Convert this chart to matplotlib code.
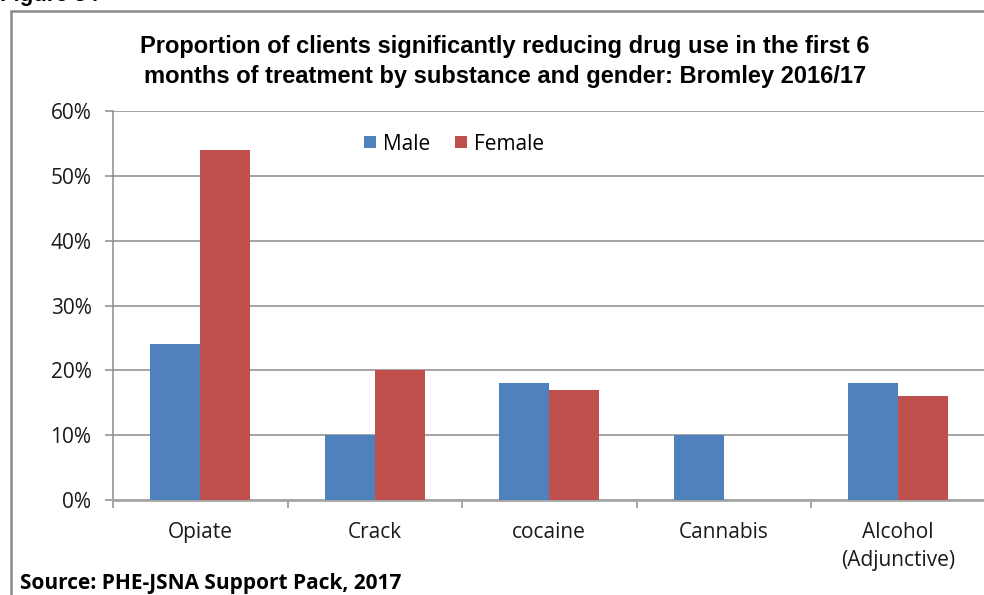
import matplotlib
matplotlib.use("Agg")
import matplotlib.pyplot as plt
import numpy as np
from matplotlib.patches import Rectangle

categories = ["Opiate", "Crack", "cocaine", "Cannabis", "Alcohol\n(Adjunctive)"]
male = [0.24, 0.10, 0.18, 0.10, 0.18]
female = [0.54, 0.20, 0.17, 0.00, 0.16]
yticks = [0, 0.1, 0.2, 0.3, 0.4, 0.5, 0.6]
ytick_labels = ["0%", "10%", "20%", "30%", "40%", "50%", "60%"]

blue = "#4F81BD"
red = "#C0504D"
grid_c = "#8C8C8C"
tick_font = "Open Sans"

fig = plt.figure(figsize=(9.84, 5.95), dpi=100)
W, H = 984, 595

# outer border
fig.patches.append(Rectangle((11 / W, -0.05), 1.1, 1 - 11 / H + 0.05, transform=fig.transFigure,
                             fill=False, edgecolor="#8A8A8A", linewidth=1.8))

ax = fig.add_axes([113 / W, 1 - 500 / H, 872.5 / W, (500 - 111) / H])
x = np.arange(len(categories))
bw = 0.2865
ax.bar(x - bw / 2, male, bw, color=blue, label="Male", zorder=3)
ax.bar(x + bw / 2, female, bw, color=red, label="Female", zorder=3)

ax.set_xlim(-0.5, len(categories) - 0.5)
ax.set_ylim(0, 0.6)
ax.set_yticks(yticks)
ax.set_yticklabels(ytick_labels, fontfamily=tick_font, fontsize=15, color="#1a1a1a")
ax.yaxis.grid(True, color=grid_c, linewidth=1.1, zorder=0)
ax.set_axisbelow(True)
ax.tick_params(axis="y", length=5.5, width=1.1, color=grid_c, pad=10)

# category labels
ax.set_xticks(x)
ax.set_xticklabels(categories, fontfamily=tick_font, fontsize=15, color="#1a1a1a", linespacing=1.45)
ax.tick_params(axis="x", length=0, pad=15.5)
# boundary ticks
ax.set_xticks(np.arange(len(categories) + 1) - 0.5, minor=True)
ax.tick_params(axis="x", which="minor", length=6, width=1.1, color=grid_c, direction="out")

for s in ["top", "right"]:
    ax.spines[s].set_visible(False)
ax.spines["left"].set_color(grid_c)
ax.spines["left"].set_linewidth(1.1)
ax.spines["bottom"].set_color("#A6A6A6")
ax.spines["bottom"].set_linewidth(2)

leg = fig.legend(*ax.get_legend_handles_labels(), loc="center", bbox_to_anchor=(454 / W, 1 - 144 / H),
                 ncol=2, frameon=False,
                 prop={"family": tick_font, "size": 15}, handlelength=0.55, handleheight=0.55,
                 handletextpad=0.35, columnspacing=1.2, borderpad=0, borderaxespad=0)

fig.text(505 / W, 1 - 61.5 / H, "Proportion of clients significantly reducing drug use in the first 6\nmonths of treatment by substance and gender: Bromley 2016/17",
         ha="center", va="center", fontfamily="Liberation Sans", fontweight="bold", fontsize=17,
         linespacing=1.4, color="#000000")

fig.text(20 / W, 1 - 583 / H, "Source: PHE-JSNA Support Pack, 2017", ha="left", va="center",
         fontfamily=tick_font, fontweight="bold", fontsize=15, color="#000000")
fig.text(0 / W, 1 + 4 / H, "Figure 34", ha="left", va="center",
         fontfamily="Liberation Sans", fontweight="bold", fontsize=16, color="#000000")

fig.savefig("out.png", dpi=100)
